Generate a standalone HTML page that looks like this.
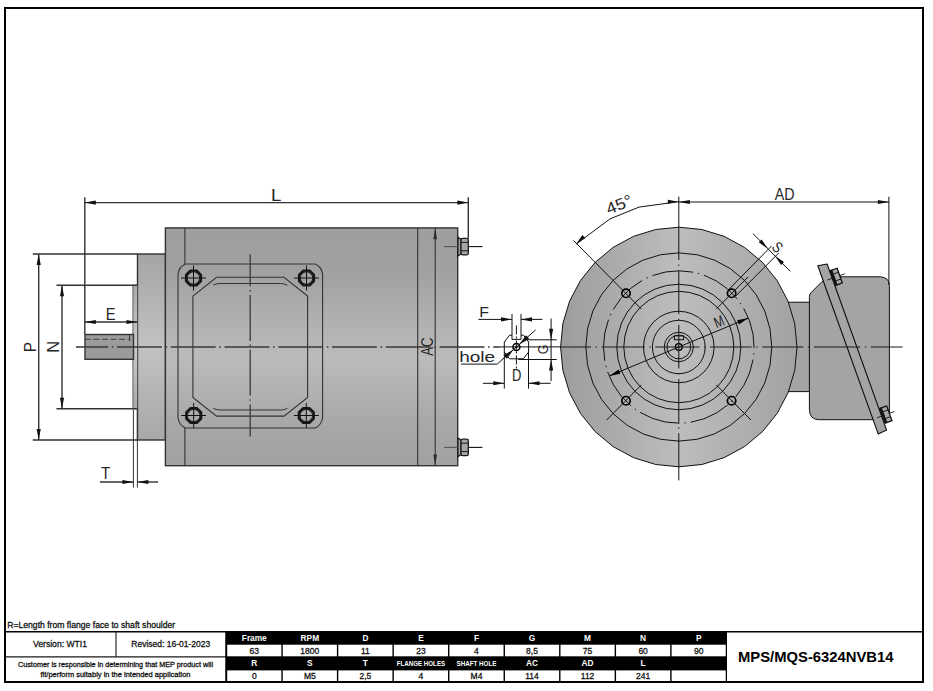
<!DOCTYPE html>
<html lang="en"><head><meta charset="utf-8"><title>MPS/MQS-6324NVB14</title>
<style>
html,body{margin:0;padding:0;background:#fff;}
body{width:933px;height:691px;overflow:hidden;}
svg{display:block;}
text{font-family:"Liberation Sans",sans-serif;}
</style></head><body>
<svg width="933" height="691" viewBox="0 0 933 691">
<defs>
<linearGradient id="gv" x1="0" y1="0" x2="0" y2="1">
<stop offset="0" stop-color="#9e9e9e"/><stop offset="0.18" stop-color="#a1a1a1"/><stop offset="0.55" stop-color="#bbbbbb"/><stop offset="0.82" stop-color="#a8a8a8"/><stop offset="1" stop-color="#a1a1a1"/>
</linearGradient>
<linearGradient id="gh" x1="0" y1="0" x2="1" y2="0">
<stop offset="0" stop-color="#9c9c9c"/><stop offset="0.5" stop-color="#bdbdbd"/><stop offset="1" stop-color="#a2a2a2"/>
</linearGradient>
<linearGradient id="gfl" x1="0" y1="0" x2="0" y2="1">
<stop offset="0" stop-color="#a5a5a5"/><stop offset="0.5" stop-color="#c2c2c2"/><stop offset="1" stop-color="#a8a8a8"/>
</linearGradient>
<linearGradient id="gsp" x1="0" y1="0" x2="0" y2="1">
<stop offset="0" stop-color="#a8a8a8"/><stop offset="0.5" stop-color="#cbcbcb"/><stop offset="1" stop-color="#a8a8a8"/>
</linearGradient>
</defs>
<rect x="0" y="0" width="933" height="691" fill="#fff"/>

<rect x="5" y="8" width="918" height="674" fill="none" stroke="#000" stroke-width="2"/>
<line x1="5.00" y1="631.70" x2="923.00" y2="631.70" stroke="#000" stroke-width="1.6" />
<rect x="137.5" y="254" width="28" height="186" fill="url(#gfl)" stroke="#333333" stroke-width="1.4"/>
<rect x="132.9" y="285.2" width="4.6" height="123.5" fill="url(#gsp)" stroke="#555" stroke-width="0.9"/>
<rect x="85" y="334.5" width="48.5" height="24.8" fill="#9b9b9b" stroke="#333333" stroke-width="1.4"/>
<line x1="129.60" y1="334.50" x2="129.60" y2="341.00" stroke="#333333" stroke-width="1" />
<line x1="85.00" y1="339.30" x2="129.60" y2="339.30" stroke="#444" stroke-width="1" stroke-dasharray="6 2.5"/>
<rect x="165.4" y="227.9" width="292.3" height="237.8" fill="url(#gv)" stroke="#333333" stroke-width="1.4"/>
<line x1="184.90" y1="227.80" x2="184.90" y2="264.00" stroke="#333333" stroke-width="1.1" />
<line x1="184.90" y1="428.00" x2="184.90" y2="465.60" stroke="#333333" stroke-width="1.1" />
<line x1="417.70" y1="227.80" x2="417.70" y2="465.60" stroke="#333333" stroke-width="1.1" />
<path d="M178 274.5 Q179 266.5 185.5 264 L315 264 Q321.6 266.5 322.6 274.5 L322.6 417.5 Q321.6 425.5 315 428 L185.5 428 Q179 425.5 178 417.5 Z" fill="none" stroke="#333333" stroke-width="1.1"/>
<path d="M192.9 296.1 L216.5 277.2 L284 277.2 L307.6 296.1 L307.6 397.4 L284 416.1 L216.5 416.1 L192.9 397.4 Z" fill="none" stroke="#333333" stroke-width="1.1"/>
<path d="M213.2 285 Q216.5 283.6 220 283.5 L281.5 283.5 Q285 283.8 287.4 285.4" fill="none" stroke="#333333" stroke-width="1"/>
<path d="M213.2 408.4 Q216.5 409.9 220 410 L281.5 410 Q285 409.8 287.4 408.2" fill="none" stroke="#333333" stroke-width="1"/>
<polygon points="200.89,281.06 196.56,285.39 190.44,285.39 186.11,281.06 186.11,274.94 190.44,270.61 196.56,270.61 200.89,274.94" fill="none" stroke="#161616" stroke-width="2.4" stroke-linejoin="round"/>
<circle cx="193.5" cy="278.0" r="6.4" fill="none" stroke="#222" stroke-width="1.2"/>
<line x1="181.00" y1="278.00" x2="206.00" y2="278.00" stroke="#111" stroke-width="1" />
<line x1="193.50" y1="265.50" x2="193.50" y2="290.50" stroke="#111" stroke-width="1" />
<polygon points="313.89,281.06 309.56,285.39 303.44,285.39 299.11,281.06 299.11,274.94 303.44,270.61 309.56,270.61 313.89,274.94" fill="none" stroke="#161616" stroke-width="2.4" stroke-linejoin="round"/>
<circle cx="306.5" cy="278.0" r="6.4" fill="none" stroke="#222" stroke-width="1.2"/>
<line x1="294.00" y1="278.00" x2="319.00" y2="278.00" stroke="#111" stroke-width="1" />
<line x1="306.50" y1="265.50" x2="306.50" y2="290.50" stroke="#111" stroke-width="1" />
<polygon points="201.09,418.56 196.76,422.89 190.64,422.89 186.31,418.56 186.31,412.44 190.64,408.11 196.76,408.11 201.09,412.44" fill="none" stroke="#161616" stroke-width="2.4" stroke-linejoin="round"/>
<circle cx="193.7" cy="415.5" r="6.4" fill="none" stroke="#222" stroke-width="1.2"/>
<line x1="181.20" y1="415.50" x2="206.20" y2="415.50" stroke="#111" stroke-width="1" />
<line x1="193.70" y1="403.00" x2="193.70" y2="428.00" stroke="#111" stroke-width="1" />
<polygon points="313.69,418.56 309.36,422.89 303.24,422.89 298.91,418.56 298.91,412.44 303.24,408.11 309.36,408.11 313.69,412.44" fill="none" stroke="#161616" stroke-width="2.4" stroke-linejoin="round"/>
<circle cx="306.3" cy="415.5" r="6.4" fill="none" stroke="#222" stroke-width="1.2"/>
<line x1="293.80" y1="415.50" x2="318.80" y2="415.50" stroke="#111" stroke-width="1" />
<line x1="306.30" y1="403.00" x2="306.30" y2="428.00" stroke="#111" stroke-width="1" />
<path d="M76.00 347.00L108.20 347.00 M111.80 347.00L113.40 347.00 M117.00 347.00L161.95 347.00 M165.55 347.00L167.15 347.00 M170.75 347.00L215.70 347.00 M219.30 347.00L220.90 347.00 M224.50 347.00L269.45 347.00 M273.05 347.00L274.65 347.00 M278.25 347.00L323.20 347.00 M326.80 347.00L328.40 347.00 M332.00 347.00L376.95 347.00 M380.55 347.00L382.15 347.00 M385.75 347.00L430.70 347.00 M434.30 347.00L435.90 347.00 M439.50 347.00L484.45 347.00 M488.05 347.00L489.65 347.00 M493.25 347.00L500.00 347.00" fill="none" stroke="#3a3a3a" stroke-width="1.4"/>
<line x1="500.00" y1="346.90" x2="561.00" y2="346.90" stroke="#111" stroke-width="1" />
<path d="M250.20 254.30L250.20 286.30 M250.20 289.90L250.20 291.50 M250.20 295.10L250.20 340.90 M250.20 344.50L250.20 346.10 M250.20 349.70L250.20 395.60 M250.20 399.20L250.20 400.80 M250.20 404.40L250.20 436.50" fill="none" stroke="#3a3a3a" stroke-width="1.3"/>
<path d="M458 237.2 L461 239.2 L461 254.0 L458 256.0 Z" fill="#a2a2a2" stroke="#111" stroke-width="1.1"/>
<rect x="461" y="238.4" width="7.3" height="16.4" rx="1.6" ry="1.6" fill="#a6a6a6" stroke="#1a1a1a" stroke-width="1.3"/>
<line x1="461.00" y1="242.40" x2="468.30" y2="242.40" stroke="#1a1a1a" stroke-width="1" />
<line x1="461.00" y1="250.80" x2="468.30" y2="250.80" stroke="#1a1a1a" stroke-width="1" />
<line x1="444.30" y1="246.60" x2="458.00" y2="246.60" stroke="#555" stroke-width="1.1" />
<line x1="468.60" y1="246.60" x2="482.40" y2="246.60" stroke="#111" stroke-width="1.1" />
<path d="M458 438.0 L461 440.0 L461 454.79999999999995 L458 456.79999999999995 Z" fill="#a2a2a2" stroke="#111" stroke-width="1.1"/>
<rect x="461" y="439.2" width="7.3" height="16.4" rx="1.6" ry="1.6" fill="#a6a6a6" stroke="#1a1a1a" stroke-width="1.3"/>
<line x1="461.00" y1="443.20" x2="468.30" y2="443.20" stroke="#1a1a1a" stroke-width="1" />
<line x1="461.00" y1="451.60" x2="468.30" y2="451.60" stroke="#1a1a1a" stroke-width="1" />
<line x1="444.30" y1="447.40" x2="458.00" y2="447.40" stroke="#555" stroke-width="1.1" />
<line x1="468.60" y1="447.40" x2="482.40" y2="447.40" stroke="#111" stroke-width="1.1" />
<line x1="84.80" y1="197.30" x2="84.80" y2="334.50" stroke="#333333" stroke-width="1.4" />
<line x1="468.30" y1="197.30" x2="468.30" y2="238.50" stroke="#333333" stroke-width="1.4" />
<line x1="84.80" y1="202.60" x2="468.30" y2="202.60" stroke="#333333" stroke-width="1.35" />
<polygon points="84.80,202.60 95.80,200.55 95.80,204.65" fill="#111"/>
<polygon points="468.30,202.60 457.30,204.65 457.30,200.55" fill="#111"/>
<text transform="translate(276.50 195.20) rotate(0) scale(0.1859 0.1657)" x="-30.25" y="34.40" font-size="100" fill="#262626">L</text>
<line x1="32.80" y1="254.00" x2="137.50" y2="254.00" stroke="#333333" stroke-width="1.4" />
<line x1="32.80" y1="440.00" x2="137.50" y2="440.00" stroke="#333333" stroke-width="1.4" />
<line x1="38.70" y1="254.00" x2="38.70" y2="440.00" stroke="#333333" stroke-width="1.4" />
<polygon points="38.70,254.00 40.75,265.00 36.65,265.00" fill="#111"/>
<polygon points="38.70,440.00 36.65,429.00 40.75,429.00" fill="#111"/>
<text transform="translate(30.30 346.90) rotate(-90) scale(0.1541 0.1613)" x="-34.80" y="34.40" font-size="100" fill="#262626">P</text>
<line x1="56.50" y1="285.20" x2="137.50" y2="285.20" stroke="#333333" stroke-width="1.4" />
<line x1="56.50" y1="408.70" x2="137.50" y2="408.70" stroke="#333333" stroke-width="1.4" />
<line x1="62.00" y1="285.20" x2="62.00" y2="408.70" stroke="#333333" stroke-width="1.4" />
<polygon points="62.00,285.20 64.05,296.20 59.95,296.20" fill="#111"/>
<polygon points="62.00,408.70 59.95,397.70 64.05,397.70" fill="#111"/>
<text transform="translate(53.80 346.80) rotate(-90) scale(0.1646 0.1584)" x="-36.15" y="34.40" font-size="100" fill="#262626">N</text>
<line x1="84.80" y1="322.00" x2="137.50" y2="322.00" stroke="#333333" stroke-width="1.35" />
<polygon points="84.80,322.00 95.80,319.95 95.80,324.05" fill="#111"/>
<polygon points="137.50,322.00 126.50,324.05 126.50,319.95" fill="#111"/>
<text transform="translate(110.90 313.90) rotate(0) scale(0.1476 0.1701)" x="-35.30" y="34.40" font-size="100" fill="#262626">E</text>
<line x1="133.40" y1="410.00" x2="133.40" y2="487.60" stroke="#333333" stroke-width="1" />
<line x1="137.40" y1="410.00" x2="137.40" y2="487.60" stroke="#333333" stroke-width="1" />
<line x1="100.00" y1="482.00" x2="133.40" y2="482.00" stroke="#333333" stroke-width="1.4" />
<line x1="137.40" y1="482.00" x2="158.00" y2="482.00" stroke="#333333" stroke-width="1.4" />
<polygon points="133.40,482.00 122.40,484.05 122.40,479.95" fill="#111"/>
<polygon points="137.40,482.00 148.40,479.95 148.40,484.05" fill="#111"/>
<text transform="translate(105.65 473.35) rotate(0) scale(0.1519 0.1628)" x="-30.50" y="34.40" font-size="100" fill="#262626">T</text>
<line x1="435.20" y1="227.80" x2="435.20" y2="465.60" stroke="#333333" stroke-width="1.1" />
<polygon points="435.20,228.30 437.00,239.30 433.40,239.30" fill="#2a2a2a"/>
<polygon points="435.20,465.40 433.40,454.40 437.00,454.40" fill="#2a2a2a"/>
<text transform="translate(427.50 346.80) rotate(-90) scale(0.1319 0.1638)" x="-67.65" y="34.40" font-size="100" fill="#262626">AC</text>
<path d="M504.3 342 L509.5 335.2 L512 335.2 L512 339.4 L521 339.4 L521 335.2 L523.5 335.2 L528.6 342 L528.6 352 L523.5 358.8 L509.5 358.8 L504.3 352 Z" fill="none" stroke="#111" stroke-width="1"/>
<circle cx="516.4" cy="347.0" r="3.5" fill="none" stroke="#000" stroke-width="1.5"/>
<circle cx="516.4" cy="347.0" r="1" fill="none" stroke="#000" stroke-width="0.7"/>
<line x1="516.40" y1="325.50" x2="516.40" y2="368.50" stroke="#111" stroke-width="1" stroke-dasharray="9 2 2 2"/>
<line x1="478.40" y1="319.40" x2="512.00" y2="319.40" stroke="#111" stroke-width="1" />
<line x1="521.00" y1="319.40" x2="542.40" y2="319.40" stroke="#111" stroke-width="1" />
<line x1="512.00" y1="314.00" x2="512.00" y2="335.20" stroke="#111" stroke-width="1" />
<line x1="521.00" y1="314.00" x2="521.00" y2="335.20" stroke="#111" stroke-width="1" />
<polygon points="512.00,319.40 501.00,321.45 501.00,317.35" fill="#111"/>
<polygon points="521.00,319.40 532.00,317.35 532.00,321.45" fill="#111"/>
<text transform="translate(484.40 311.80) rotate(0) scale(0.1575 0.1497)" x="-32.65" y="34.40" font-size="100" fill="#262626">F</text>
<line x1="535.60" y1="329.90" x2="497.20" y2="364.10" stroke="#111" stroke-width="1" />
<line x1="461.00" y1="364.10" x2="497.20" y2="364.10" stroke="#111" stroke-width="1" />
<polygon points="519.00,344.70 525.99,335.26 529.18,338.84" fill="#111"/>
<polygon points="513.80,349.30 506.81,358.74 503.62,355.16" fill="#111"/>
<text transform="translate(477.40 356.30) rotate(0) scale(0.1902 0.1524)" x="-95.75" y="35.75" font-size="100" fill="#262626">hole</text>
<line x1="551.10" y1="318.60" x2="551.10" y2="381.00" stroke="#111" stroke-width="1" />
<line x1="526.60" y1="339.80" x2="556.70" y2="339.80" stroke="#111" stroke-width="1" />
<line x1="518.30" y1="359.50" x2="556.70" y2="359.50" stroke="#111" stroke-width="1" />
<polygon points="551.10,339.80 549.05,328.80 553.15,328.80" fill="#111"/>
<polygon points="551.10,359.50 553.15,370.50 549.05,370.50" fill="#111"/>
<text transform="translate(542.90 349.60) rotate(-90) scale(0.1256 0.1525)" x="-37.65" y="34.40" font-size="100" fill="#262626">G</text>
<line x1="482.90" y1="383.30" x2="504.30" y2="383.30" stroke="#111" stroke-width="1" />
<line x1="528.50" y1="383.30" x2="550.60" y2="383.30" stroke="#111" stroke-width="1" />
<line x1="504.30" y1="352.00" x2="504.30" y2="388.60" stroke="#111" stroke-width="1" />
<line x1="528.50" y1="352.00" x2="528.50" y2="388.60" stroke="#111" stroke-width="1" />
<polygon points="504.30,383.30 493.30,385.35 493.30,381.25" fill="#111"/>
<polygon points="528.50,383.30 539.50,381.25 539.50,385.35" fill="#111"/>
<text transform="translate(517.00 375.60) rotate(0) scale(0.1301 0.1599)" x="-37.80" y="34.40" font-size="100" fill="#262626">D</text>
<rect x="780" y="302.2" width="30" height="89.4" fill="#a4a4a4" stroke="#111" stroke-width="1"/>
<path d="M809.4 296.5 Q809.4 294.3 811 292.7 L821.8 281.8 L829 276.8 L880.4 276.8 Q889.4 277.5 889.4 285.5 L889.4 411 Q889.4 419.7 880.4 419.7 L819.5 419.7 Q809.4 419.7 809.4 409.5 Z" fill="#a4a4a4" stroke="#111" stroke-width="1"/>
<polygon points="678.80,227.20 701.86,229.50 724.03,236.32 744.47,247.39 762.38,262.29 777.08,280.44 788.00,301.15 794.73,323.63 797.00,347.00 794.73,370.37 788.00,392.85 777.08,413.56 762.38,431.71 744.47,446.61 724.03,457.68 701.86,464.50 678.80,466.80 655.74,464.50 633.57,457.68 613.13,446.61 595.22,431.71 580.52,413.56 569.60,392.85 562.87,370.37 560.60,347.00 562.87,323.63 569.60,301.15 580.52,280.44 595.22,262.29 613.13,247.39 633.57,236.32 655.74,229.50" fill="url(#gh)" stroke="#111" stroke-width="1" stroke-linejoin="round" />
<polygon points="678.80,252.88 696.94,254.69 714.39,260.05 730.47,268.75 744.56,280.45 756.13,294.71 764.72,310.98 770.01,328.64 771.80,347.00 770.01,365.36 764.72,383.02 756.13,399.29 744.56,413.55 730.47,425.25 714.39,433.95 696.94,439.31 678.80,441.12 660.66,439.31 643.21,433.95 627.13,425.25 613.04,413.55 601.47,399.29 592.88,383.02 587.59,365.36 585.80,347.00 587.59,328.64 592.88,310.98 601.47,294.71 613.04,280.45 627.13,268.75 643.21,260.05 660.66,254.69" fill="none" stroke="#111" stroke-width="1" stroke-linejoin="round" />
<polygon points="678.80,284.26 690.90,285.46 702.53,289.03 713.25,294.83 722.64,302.63 730.35,312.14 736.08,322.99 739.61,334.76 740.80,347.00 739.61,359.24 736.08,371.01 730.35,381.86 722.64,391.37 713.25,399.17 702.53,404.97 690.90,408.54 678.80,409.74 666.70,408.54 655.07,404.97 644.35,399.17 634.96,391.37 627.25,381.86 621.52,371.01 617.99,359.24 616.80,347.00 617.99,334.76 621.52,322.99 627.25,312.14 634.96,302.63 644.35,294.83 655.07,289.03 666.70,285.46" fill="none" stroke="#111" stroke-width="1" stroke-linejoin="round" />
<polygon points="678.80,291.34 689.53,292.41 699.85,295.58 709.36,300.72 717.69,307.64 724.53,316.08 729.61,325.70 732.74,336.14 733.80,347.00 732.74,357.86 729.61,368.30 724.53,377.92 717.69,386.36 709.36,393.28 699.85,398.42 689.53,401.59 678.80,402.66 668.07,401.59 657.75,398.42 648.24,393.28 639.91,386.36 633.07,377.92 627.99,368.30 624.86,357.86 623.80,347.00 624.86,336.14 627.99,325.70 633.07,316.08 639.91,307.64 648.24,300.72 657.75,295.58 668.07,292.41" fill="none" stroke="#111" stroke-width="1" stroke-linejoin="round" />
<polygon points="678.80,311.28 685.69,311.96 692.31,314.00 698.41,317.30 703.76,321.74 708.15,327.15 711.41,333.33 713.42,340.03 714.10,347.00 713.42,353.97 711.41,360.67 708.15,366.85 703.76,372.26 698.41,376.70 692.31,380.00 685.69,382.04 678.80,382.72 671.91,382.04 665.29,380.00 659.19,376.70 653.84,372.26 649.45,366.85 646.19,360.67 644.18,353.97 643.50,347.00 644.18,340.03 646.19,333.33 649.45,327.15 653.84,321.74 659.19,317.30 665.29,314.00 671.91,311.96" fill="none" stroke="#111" stroke-width="1" stroke-linejoin="round" />
<polygon points="678.80,320.28 683.95,320.80 688.90,322.32 693.47,324.79 697.47,328.11 700.75,332.16 703.19,336.78 704.69,341.79 705.20,347.00 704.69,352.21 703.19,357.22 700.75,361.84 697.47,365.89 693.47,369.21 688.90,371.68 683.95,373.20 678.80,373.72 673.65,373.20 668.70,371.68 664.13,369.21 660.13,365.89 656.85,361.84 654.41,357.22 652.91,352.21 652.40,347.00 652.91,341.79 654.41,336.78 656.85,332.16 660.13,328.11 664.13,324.79 668.70,322.32 673.65,320.80" fill="none" stroke="#111" stroke-width="1" stroke-linejoin="round" />
<polygon points="678.80,332.22 684.39,333.35 689.12,336.55 692.29,341.35 693.40,347.00 692.29,352.65 689.12,357.45 684.39,360.65 678.80,361.78 673.21,360.65 668.48,357.45 665.31,352.65 664.20,347.00 665.31,341.35 668.48,336.55 673.21,333.35" fill="none" stroke="#111" stroke-width="1" stroke-linejoin="round" />
<path d="M685.82 422.87L684.38 422.99 M679.46 423.20L665.77 422.05L652.51 418.41L640.13 412.39 M635.99 409.69L634.81 408.84 M630.90 405.80L621.15 396.02L613.31 384.60L607.65 371.94 M606.19 367.17L605.82 365.76 M604.76 360.89L603.50 347.04L604.74 333.20L608.45 319.82 M610.36 315.22L610.98 313.89 M613.26 309.48L621.09 298.05L630.84 288.26L642.18 280.42 M646.56 278.13L647.87 277.52 M652.43 275.62L665.68 271.96L679.37 270.80L693.04 272.17 M697.84 273.27L699.24 273.66 M703.94 275.17L716.41 280.98L727.64 289.00L737.24 298.94 M740.22 302.91L741.04 304.11 M743.68 308.32L749.54 320.90L753.05 334.34L754.09 348.20 M753.85 353.18L753.72 354.63 M753.07 359.58L749.57 373.02L743.73 385.60L735.72 396.89 M732.37 400.55L731.34 401.58 M727.70 404.95L716.49 412.97L704.02 418.80L690.71 422.24" fill="none" stroke="#111" stroke-width="1"/>
<polygon points="690.39,350.11 687.29,355.49 681.91,358.59 675.69,358.59 670.31,355.49 667.21,350.11 667.21,343.89 670.31,338.51 675.69,335.41 681.91,335.41 687.29,338.51 690.39,343.89" fill="none" stroke="#111" stroke-width="1"/>
<rect x="674.4" y="335.9" width="9.2" height="3.8" fill="none" stroke="#111" stroke-width="1"/>
<circle cx="678.8" cy="347.0" r="3.4" fill="none" stroke="#000" stroke-width="1.4"/>
<path d="M678.80 196.70L678.80 260.00 M678.80 264.60L678.80 266.00 M678.80 270.60L678.80 314.20 M678.80 318.80L678.80 320.20 M678.80 324.80L678.80 368.40 M678.80 373.00L678.80 374.40 M678.80 379.00L678.80 422.60 M678.80 427.20L678.80 428.60 M678.80 433.20L678.80 480.40" fill="none" stroke="#111" stroke-width="1"/>
<circle cx="626.00" cy="293.30" r="4.2" fill="none" stroke="#000" stroke-width="1.7"/>
<line x1="641.32" y1="309.07" x2="573.44" y2="240.38" stroke="#111" stroke-width="1" />
<circle cx="731.60" cy="293.30" r="4.2" fill="none" stroke="#000" stroke-width="1.7"/>
<line x1="716.28" y1="309.07" x2="748.10" y2="276.87" stroke="#111" stroke-width="1" />
<circle cx="626.00" cy="400.70" r="4.2" fill="none" stroke="#000" stroke-width="1.7"/>
<line x1="641.32" y1="384.93" x2="606.68" y2="419.99" stroke="#111" stroke-width="1" />
<circle cx="731.60" cy="400.70" r="4.2" fill="none" stroke="#000" stroke-width="1.7"/>
<line x1="716.28" y1="384.93" x2="750.92" y2="419.99" stroke="#111" stroke-width="1" />
<polyline points="678.70,201.70 639.00,207.10 610.00,218.90 575.90,244.30" fill="none" stroke="#111" stroke-width="1"/>
<polygon points="678.80,201.70 667.80,203.75 667.80,199.65" fill="#111"/>
<polygon points="576.06,244.26 582.39,235.03 585.29,237.93" fill="#111"/>
<text transform="translate(618.80 204.60) rotate(-22.5) scale(0.1784 0.1596)" x="-73.75" y="34.40" font-size="100" fill="#262626">45°</text>
<line x1="678.80" y1="202.00" x2="888.90" y2="202.00" stroke="#111" stroke-width="1" />
<line x1="888.90" y1="196.70" x2="888.90" y2="285.00" stroke="#111" stroke-width="1" />
<polygon points="678.80,202.00 689.80,199.95 689.80,204.05" fill="#111"/>
<polygon points="888.90,202.00 877.90,204.05 877.90,199.95" fill="#111"/>
<text transform="translate(784.35 193.65) rotate(0) scale(0.1426 0.1701)" x="-67.15" y="34.40" font-size="100" fill="#262626">AD</text>
<line x1="728.80" y1="289.50" x2="771.50" y2="246.00" stroke="#111" stroke-width="1" />
<line x1="735.80" y1="296.00" x2="778.70" y2="253.00" stroke="#111" stroke-width="1" />
<line x1="753.10" y1="233.70" x2="790.30" y2="271.40" stroke="#111" stroke-width="1" />
<polygon points="767.90,248.70 758.67,242.37 761.57,239.47" fill="#111"/>
<polygon points="774.80,255.70 784.03,262.03 781.13,264.93" fill="#111"/>
<text transform="translate(777.40 247.20) rotate(45) scale(0.1252 0.1554)" x="-33.35" y="34.40" font-size="100" fill="#262626">S</text>
<line x1="748.23" y1="318.10" x2="609.37" y2="375.90" stroke="#111" stroke-width="1" />
<polygon points="748.23,318.10 738.95,324.45 737.19,320.20" fill="#000"/>
<polygon points="609.37,375.90 618.65,369.55 620.41,373.80" fill="#000"/>
<text transform="translate(718.90 321.55) rotate(-22.6) scale(0.1166 0.1512)" x="-41.65" y="34.40" font-size="100" fill="#262626">M</text>
<polygon points="817.8,265.7 827.1,264 886.6,430.1 878.2,433.9" fill="#a4a4a4" stroke="#0c0c0c" stroke-width="1.1" stroke-linejoin="round"/>
<path d="M561.00 347.00L591.00 347.00 M595.60 347.00L597.00 347.00 M601.60 347.00L644.70 347.00 M649.30 347.00L650.70 347.00 M655.30 347.00L699.50 347.00 M704.10 347.00L705.50 347.00 M710.10 347.00L751.70 347.00 M756.30 347.00L757.70 347.00 M762.30 347.00L803.30 347.00 M807.90 347.00L809.30 347.00 M813.90 347.00L860.20 347.00 M864.80 347.00L866.20 347.00 M870.80 347.00L902.60 347.00" fill="none" stroke="#1a1a1a" stroke-width="1.1"/>
<line x1="830.43" y1="269.80" x2="836.23" y2="285.99" stroke="#151515" stroke-width="2.4" />
<polygon points="831.73,270.18 837.10,268.26 842.36,282.95 837.00,284.87" fill="#a9a9a9" stroke="#111" stroke-width="1.3" stroke-linejoin="round"/>
<line x1="833.15" y1="274.14" x2="838.52" y2="272.21" stroke="#1a1a1a" stroke-width="1" />
<line x1="835.58" y1="280.91" x2="840.95" y2="278.99" stroke="#1a1a1a" stroke-width="1" />
<line x1="827.49" y1="279.99" x2="832.67" y2="278.13" stroke="#111" stroke-width="0.9" />
<line x1="839.73" y1="275.60" x2="844.82" y2="273.78" stroke="#111" stroke-width="0.9" />
<line x1="880.03" y1="407.50" x2="885.83" y2="423.69" stroke="#151515" stroke-width="2.4" />
<polygon points="881.33,407.88 886.70,405.96 891.96,420.65 886.60,422.57" fill="#a9a9a9" stroke="#111" stroke-width="1.3" stroke-linejoin="round"/>
<line x1="882.75" y1="411.84" x2="888.12" y2="409.91" stroke="#1a1a1a" stroke-width="1" />
<line x1="885.18" y1="418.61" x2="890.55" y2="416.69" stroke="#1a1a1a" stroke-width="1" />
<line x1="877.09" y1="417.69" x2="882.27" y2="415.83" stroke="#111" stroke-width="0.9" />
<line x1="889.33" y1="413.30" x2="894.42" y2="411.48" stroke="#111" stroke-width="0.9" />
<text x="7.20" y="628.00" font-size="8.9" text-anchor="start" fill="#111" font-weight="normal" stroke="#111" stroke-width="0.28" textLength="168" lengthAdjust="spacingAndGlyphs" >R=Length from flange face to shaft shoulder</text>
<line x1="5.00" y1="656.90" x2="226.50" y2="656.90" stroke="#1a1a1a" stroke-width="1.2" />
<line x1="116.00" y1="631.70" x2="116.00" y2="657.00" stroke="#222" stroke-width="1.15" />
<line x1="226.00" y1="631.70" x2="226.00" y2="682.00" stroke="#000" stroke-width="1.5" />
<text x="60.00" y="647.00" font-size="8.8" text-anchor="middle" fill="#111" font-weight="normal" stroke="#111" stroke-width="0.28" textLength="54" lengthAdjust="spacingAndGlyphs" >Version: WTI1</text>
<text x="170.80" y="647.00" font-size="8.8" text-anchor="middle" fill="#111" font-weight="normal" stroke="#111" stroke-width="0.28" textLength="79" lengthAdjust="spacingAndGlyphs" >Revised: 16-01-2023</text>
<text x="115.50" y="666.80" font-size="7.3" text-anchor="middle" fill="#111" font-weight="normal" stroke="#111" stroke-width="0.28" textLength="195" lengthAdjust="spacingAndGlyphs" >Customer is responsible in determining that MEP product will</text>
<text x="115.50" y="677.00" font-size="7.3" text-anchor="middle" fill="#111" font-weight="normal" stroke="#111" stroke-width="0.28" textLength="150" lengthAdjust="spacingAndGlyphs" >fit/perform suitably in the intended application</text>
<rect x="226" y="631" width="501" height="51" fill="#000"/>
<rect x="227.20" y="644.7" width="54.15" height="11.6" fill="#fff"/>
<rect x="227.20" y="670.4" width="54.15" height="10.6" fill="#fff"/>
<text x="254.28" y="641.30" font-size="8.3" text-anchor="middle" fill="#fff" font-weight="bold" >Frame</text>
<text x="254.28" y="653.90" font-size="8.5" text-anchor="middle" fill="#111" font-weight="normal" stroke="#111" stroke-width="0.28" >63</text>
<text x="254.28" y="666.30" font-size="8.3" text-anchor="middle" fill="#fff" font-weight="bold" >R</text>
<text x="254.28" y="679.20" font-size="8.5" text-anchor="middle" fill="#111" font-weight="normal" stroke="#111" stroke-width="0.28" >0</text>
<rect x="282.75" y="644.7" width="54.15" height="11.6" fill="#fff"/>
<rect x="282.75" y="670.4" width="54.15" height="10.6" fill="#fff"/>
<text x="309.83" y="641.30" font-size="8.3" text-anchor="middle" fill="#fff" font-weight="bold" >RPM</text>
<text x="309.83" y="653.90" font-size="8.5" text-anchor="middle" fill="#111" font-weight="normal" stroke="#111" stroke-width="0.28" >1800</text>
<text x="309.83" y="666.30" font-size="8.3" text-anchor="middle" fill="#fff" font-weight="bold" >S</text>
<text x="309.83" y="679.20" font-size="8.5" text-anchor="middle" fill="#111" font-weight="normal" stroke="#111" stroke-width="0.28" >M5</text>
<rect x="338.30" y="644.7" width="54.15" height="11.6" fill="#fff"/>
<rect x="338.30" y="670.4" width="54.15" height="10.6" fill="#fff"/>
<text x="365.38" y="641.30" font-size="8.3" text-anchor="middle" fill="#fff" font-weight="bold" >D</text>
<text x="365.38" y="653.90" font-size="8.5" text-anchor="middle" fill="#111" font-weight="normal" stroke="#111" stroke-width="0.28" >11</text>
<text x="365.38" y="666.30" font-size="8.3" text-anchor="middle" fill="#fff" font-weight="bold" >T</text>
<text x="365.38" y="679.20" font-size="8.5" text-anchor="middle" fill="#111" font-weight="normal" stroke="#111" stroke-width="0.28" >2,5</text>
<rect x="393.85" y="644.7" width="54.15" height="11.6" fill="#fff"/>
<rect x="393.85" y="670.4" width="54.15" height="10.6" fill="#fff"/>
<text x="420.92" y="641.30" font-size="8.3" text-anchor="middle" fill="#fff" font-weight="bold" >E</text>
<text x="420.92" y="653.90" font-size="8.5" text-anchor="middle" fill="#111" font-weight="normal" stroke="#111" stroke-width="0.28" >23</text>
<text x="420.92" y="665.50" font-size="6.4" text-anchor="middle" fill="#fff" font-weight="bold" textLength="48.4" lengthAdjust="spacingAndGlyphs" >FLANGE HOLES</text>
<text x="420.92" y="679.20" font-size="8.5" text-anchor="middle" fill="#111" font-weight="normal" stroke="#111" stroke-width="0.28" >4</text>
<rect x="449.40" y="644.7" width="54.15" height="11.6" fill="#fff"/>
<rect x="449.40" y="670.4" width="54.15" height="10.6" fill="#fff"/>
<text x="476.48" y="641.30" font-size="8.3" text-anchor="middle" fill="#fff" font-weight="bold" >F</text>
<text x="476.48" y="653.90" font-size="8.5" text-anchor="middle" fill="#111" font-weight="normal" stroke="#111" stroke-width="0.28" >4</text>
<text x="476.48" y="665.50" font-size="6.4" text-anchor="middle" fill="#fff" font-weight="bold" textLength="39.8" lengthAdjust="spacingAndGlyphs" >SHAFT HOLE</text>
<text x="476.48" y="679.20" font-size="8.5" text-anchor="middle" fill="#111" font-weight="normal" stroke="#111" stroke-width="0.28" >M4</text>
<rect x="504.95" y="644.7" width="54.15" height="11.6" fill="#fff"/>
<rect x="504.95" y="670.4" width="54.15" height="10.6" fill="#fff"/>
<text x="532.02" y="641.30" font-size="8.3" text-anchor="middle" fill="#fff" font-weight="bold" >G</text>
<text x="532.02" y="653.90" font-size="8.5" text-anchor="middle" fill="#111" font-weight="normal" stroke="#111" stroke-width="0.28" >8,5</text>
<text x="532.02" y="666.30" font-size="8.3" text-anchor="middle" fill="#fff" font-weight="bold" >AC</text>
<text x="532.02" y="679.20" font-size="8.5" text-anchor="middle" fill="#111" font-weight="normal" stroke="#111" stroke-width="0.28" >114</text>
<rect x="560.50" y="644.7" width="54.15" height="11.6" fill="#fff"/>
<rect x="560.50" y="670.4" width="54.15" height="10.6" fill="#fff"/>
<text x="587.57" y="641.30" font-size="8.3" text-anchor="middle" fill="#fff" font-weight="bold" >M</text>
<text x="587.57" y="653.90" font-size="8.5" text-anchor="middle" fill="#111" font-weight="normal" stroke="#111" stroke-width="0.28" >75</text>
<text x="587.57" y="666.30" font-size="8.3" text-anchor="middle" fill="#fff" font-weight="bold" >AD</text>
<text x="587.57" y="679.20" font-size="8.5" text-anchor="middle" fill="#111" font-weight="normal" stroke="#111" stroke-width="0.28" >112</text>
<rect x="616.05" y="644.7" width="54.15" height="11.6" fill="#fff"/>
<rect x="616.05" y="670.4" width="54.15" height="10.6" fill="#fff"/>
<text x="643.12" y="641.30" font-size="8.3" text-anchor="middle" fill="#fff" font-weight="bold" >N</text>
<text x="643.12" y="653.90" font-size="8.5" text-anchor="middle" fill="#111" font-weight="normal" stroke="#111" stroke-width="0.28" >60</text>
<text x="643.12" y="666.30" font-size="8.3" text-anchor="middle" fill="#fff" font-weight="bold" >L</text>
<text x="643.12" y="679.20" font-size="8.5" text-anchor="middle" fill="#111" font-weight="normal" stroke="#111" stroke-width="0.28" >241</text>
<rect x="671.60" y="644.7" width="54.15" height="11.6" fill="#fff"/>
<rect x="671.60" y="670.4" width="54.15" height="10.6" fill="#fff"/>
<text x="698.67" y="641.30" font-size="8.3" text-anchor="middle" fill="#fff" font-weight="bold" >P</text>
<text x="698.67" y="653.90" font-size="8.5" text-anchor="middle" fill="#111" font-weight="normal" stroke="#111" stroke-width="0.28" >90</text>
<text x="738.00" y="662.00" font-size="15" text-anchor="start" fill="#000" font-weight="bold" textLength="155.5" lengthAdjust="spacingAndGlyphs" >MPS/MQS-6324NVB14</text>
</svg></body></html>
